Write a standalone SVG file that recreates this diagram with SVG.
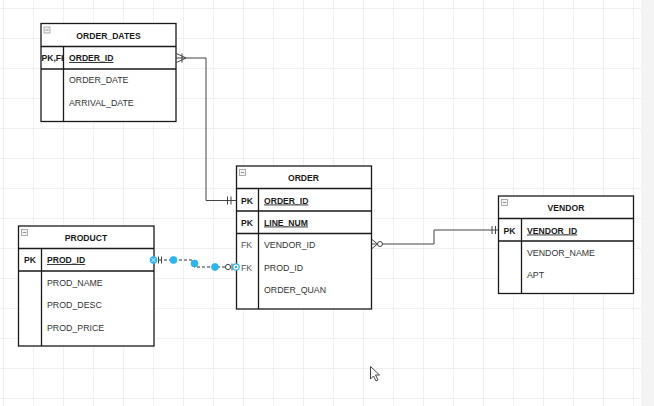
<svg xmlns="http://www.w3.org/2000/svg" width="654" height="406" viewBox="0 0 654 406">
<defs>
<pattern id="grid" x="3" y="8" width="30" height="30" patternUnits="userSpaceOnUse">
<path d="M0,0 H30 M0,0 V30" fill="none" stroke="#e4e4e4" stroke-width="1"/>
</pattern>
<clipPath id="clipPKFK"><rect x="41" y="47" width="22.5" height="22"/></clipPath>
<style>
.tbl{fill:#ffffff;stroke:#1a1a1a;stroke-width:1.3}
.ln{stroke:#1a1a1a;stroke-width:1.3;fill:none}
.title{font-family:"Liberation Sans",Arial,sans-serif;font-size:8.6px;font-weight:bold;fill:#1a1a1a;text-anchor:middle}
.key{font-family:"Liberation Sans",Arial,sans-serif;font-size:8.6px;font-weight:bold;fill:#1a1a1a}
.pkname{font-family:"Liberation Sans",Arial,sans-serif;font-size:8.6px;font-weight:bold;fill:#1a1a1a;text-decoration:underline}
.fk{font-family:"Liberation Sans",Arial,sans-serif;font-size:8.8px;fill:#555}
.col{font-family:"Liberation Sans",Arial,sans-serif;font-size:8.8px;fill:#333}
.conn{fill:none;stroke:#444;stroke-width:1}
.icon{fill:#f4f4f4;stroke:#999;stroke-width:0.8}
.handle{fill:#29b6f2;stroke:#29b6f2;stroke-width:1}
</style>
</defs>
<rect x="0" y="0" width="654" height="406" fill="#ffffff"/>
<rect x="0" y="0" width="641" height="406" fill="url(#grid)"/>
<rect x="641" y="0" width="13" height="406" fill="#f4f4f4"/>

<g id="order_dates">
<rect class="tbl" x="41" y="23.5" width="135" height="98"/>
<path class="ln" d="M41,46.5 H176 M41,69 H176 M63.5,46.5 V121.5"/>
<rect class="icon" x="44" y="27" width="6" height="6"/>
<path d="M45.3,30 H48.7" stroke="#777" stroke-width="0.8"/>
<text class="title" x="108.5" y="38.5">ORDER_DATES</text>
<text class="key" x="41.5" y="61" clip-path="url(#clipPKFK)">PK,FK</text>
<text class="pkname" x="69" y="61">ORDER_ID</text>
<text class="col" x="69" y="83">ORDER_DATE</text>
<text class="col" x="69" y="106">ARRIVAL_DATE</text>
</g>

<g id="order">
<rect class="tbl" x="236.5" y="166" width="135" height="143"/>
<path class="ln" d="M236.5,188.5 H371.5 M236.5,211 H371.5 M236.5,233.5 H371.5 M258.5,188.5 V309"/>
<rect class="icon" x="239.5" y="169.5" width="6" height="6"/>
<path d="M240.8,172.5 H244.2" stroke="#777" stroke-width="0.8"/>
<text class="title" x="303.5" y="181">ORDER</text>
<text class="key" x="241" y="203.5">PK</text>
<text class="pkname" x="264" y="203.5">ORDER_ID</text>
<text class="key" x="241" y="225.5">PK</text>
<text class="pkname" x="264" y="225.5">LINE_NUM</text>
<text class="fk" x="241" y="248">FK</text>
<text class="col" x="264" y="248">VENDOR_ID</text>
<text class="fk" x="241" y="270.5">FK</text>
<text class="col" x="264" y="270.5">PROD_ID</text>
<text class="col" x="264" y="293">ORDER_QUAN</text>
</g>

<g id="product">
<rect class="tbl" x="18.5" y="226" width="135.5" height="120"/>
<path class="ln" d="M18.5,248.5 H154 M18.5,271 H154 M41.5,248.5 V346"/>
<rect class="icon" x="21.5" y="229.5" width="6" height="6"/>
<path d="M22.8,232.5 H26.2" stroke="#777" stroke-width="0.8"/>
<text class="title" x="86" y="241">PRODUCT</text>
<text class="key" x="24" y="263">PK</text>
<text class="pkname" x="47" y="263">PROD_ID</text>
<text class="col" x="47" y="285.5">PROD_NAME</text>
<text class="col" x="47" y="308">PROD_DESC</text>
<text class="col" x="47" y="330.5">PROD_PRICE</text>
</g>

<g id="vendor">
<rect class="tbl" x="498.5" y="196" width="135" height="97.5"/>
<path class="ln" d="M498.5,218.5 H633.5 M498.5,241 H633.5 M521.5,218.5 V293.5"/>
<rect class="icon" x="501.5" y="199.5" width="6" height="6"/>
<path d="M502.8,202.5 H506.2" stroke="#777" stroke-width="0.8"/>
<text class="title" x="566" y="211">VENDOR</text>
<text class="key" x="503.5" y="233.5">PK</text>
<text class="pkname" x="527" y="233.5">VENDOR_ID</text>
<text class="col" x="527" y="255.5">VENDOR_NAME</text>
<text class="col" x="527" y="278">APT</text>
</g>

<g id="connectors">
<path class="conn" d="M176,58 H206 V200.5 H236.5"/>
<path class="conn" d="M186,58 L176.5,53.5 M186,58 L176.5,62.5 M182,53.5 V62.5"/>
<path class="conn" d="M227.5,196.5 V204.5 M231,196.5 V204.5"/>
<path class="conn" d="M371.5,244 H434 V230 H498.5"/>
<path class="conn" d="M377.5,244 L372,239.5 M377.5,244 L372,248.5"/>
<circle cx="380" cy="244" r="2.5" fill="#ffffff" stroke="#444" stroke-width="1"/>
<path class="conn" d="M492,226 V234 M495.5,226 V234"/>
<path d="M154,260 H194 V267 H236.5" fill="none" stroke="#333" stroke-width="1" stroke-dasharray="3,2"/>
<path class="conn" d="M158.5,256.5 V263.5 M161.5,256.5 V263.5"/>
<circle cx="228" cy="267" r="2.6" fill="#ffffff" stroke="#444" stroke-width="1"/>
<path class="conn" d="M232,263.5 V270.5"/>
<circle class="handle" cx="153.5" cy="260" r="3.4"/>
<path d="M151.5,258 L155.5,262 M155.5,258 L151.5,262" stroke="#ffffff" stroke-width="0.8"/>
<circle class="handle" cx="173.5" cy="260" r="3.4"/>
<circle class="handle" cx="194.5" cy="263.5" r="3.4"/>
<circle class="handle" cx="215" cy="267" r="3.4"/>
<circle cx="236" cy="267" r="3.2" fill="#ffffff" stroke="#29b6f2" stroke-width="1.2"/>
<circle cx="236" cy="267" r="1.3" fill="#29b6f2"/>
</g>

<g id="cursor">
<path d="M370.5,366.5 V379 L373.5,376 L376,381 L378,380 L375.5,375 L379.5,375 Z" fill="#ffffff" stroke="#333" stroke-width="0.9" stroke-linejoin="round"/>
</g>
</svg>
